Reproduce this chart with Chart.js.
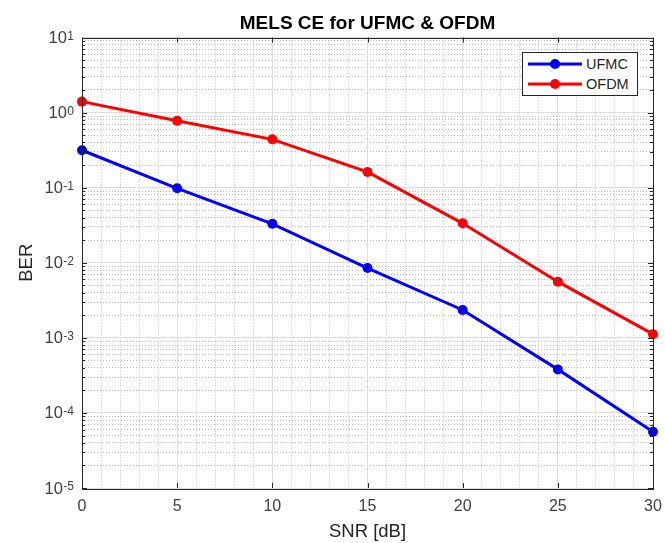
<!DOCTYPE html>
<html>
<head>
<meta charset="utf-8">
<script src="https://cdn.jsdelivr.net/npm/chart.js@4"></script>
<style>
  html, body { margin: 0; padding: 0; background: #fff; }
  #wrap { position: relative; width: 665px; height: 543px; }
  #legend {
    position: absolute; left: 522px; top: 52px; width: 114px; height: 42px;
    border: 1px solid #262626; background: #fff;
    font-family: "Liberation Sans", Arial, sans-serif; font-size: 14.5px; color: #262626;
  }
  #legend .row { display: flex; align-items: center; height: 20px; }
  #legend .row:first-child { margin-top: 1px; }
  #legend svg { margin-left: 5px; margin-right: 4px; }
</style>
</head>
<body>
<div id="wrap">
  <canvas id="chart" width="665" height="543"></canvas>
  <div id="legend"></div>
</div>
<script>
const snr = [0, 5, 10, 15, 20, 25, 30];
const berUFMC = [0.315, 0.098, 0.033, 0.0085, 0.00235, 0.00038, 0.000056];
const berOFDM = [1.4, 0.78, 0.44, 0.162, 0.0335, 0.0056, 0.00112];

const xTicks = [0, 5, 10, 15, 20, 25, 30];
const xMinorTicks = [1, 2, 3, 4, 6, 7, 8, 9, 11, 12, 13, 14, 16, 17, 18, 19, 21, 22, 23, 24, 26, 27, 28, 29];
const yTicks = [1e-5, 1e-4, 1e-3, 1e-2, 1e-1, 1e0, 1e1];
const yTickBase = "10";
const yTickExp = ["-5", "-4", "-3", "-2", "-1", "0", "1"];
const yMinorMult = [2, 3, 4, 5, 6, 7, 8, 9];

const fontFamily = '"Liberation Sans", Arial, sans-serif';
const axisColor = "#262626";
const tickColor = "#404040";

const yMinorTicks = [];
yTicks.slice(0, -1).forEach((d) => yMinorMult.forEach((m) => yMinorTicks.push(d * m)));

// box round the plot area plus inward tick marks, like matlab
const boxPlugin = {
  id: "box",
  afterDatasetsDraw(chart) {
    const { ctx, chartArea: a, scales } = chart;
    ctx.save();
    ctx.strokeStyle = axisColor;
    ctx.lineWidth = 1;
    ctx.beginPath();
    xTicks.forEach((v) => {
      const px = Math.round(scales.x.getPixelForValue(v)) + 0.5;
      ctx.moveTo(px, a.bottom); ctx.lineTo(px, a.bottom - 5);
      ctx.moveTo(px, a.top); ctx.lineTo(px, a.top + 5);
    });
    yTicks.forEach((v) => {
      const py = Math.round(scales.y.getPixelForValue(v)) + 0.5;
      ctx.moveTo(a.left, py); ctx.lineTo(a.left + 5, py);
      ctx.moveTo(a.right, py); ctx.lineTo(a.right - 5, py);
    });
    yMinorTicks.forEach((v) => {
      const py = Math.round(scales.y.getPixelForValue(v)) + 0.5;
      ctx.moveTo(a.left, py); ctx.lineTo(a.left + 3, py);
      ctx.moveTo(a.right, py); ctx.lineTo(a.right - 3, py);
    });
    ctx.stroke();
    ctx.strokeRect(Math.round(a.left) + 0.5, Math.round(a.top) + 0.5,
      Math.round(a.right - a.left), Math.round(a.bottom - a.top));
    ctx.restore();
  },
  // y labels as 10 with a raised exponent
  afterDraw(chart) {
    const { ctx, chartArea: a, scales } = chart;
    const right = a.left - 8;
    ctx.save();
    ctx.fillStyle = tickColor;
    ctx.textAlign = "right";
    yTicks.forEach((v, i) => {
      const py = scales.y.getPixelForValue(v);
      ctx.font = `12px ${fontFamily}`;
      ctx.textBaseline = "top";
      const expW = ctx.measureText(yTickExp[i]).width;
      ctx.fillText(yTickExp[i], right, py - 7);
      ctx.font = `16.5px ${fontFamily}`;
      ctx.textBaseline = "middle";
      ctx.fillText(yTickBase, right - expW - 0.5, py + 1);
    });
    ctx.restore();
  },
};

const minorAxis = (type, position, ticks) => ({
  type,
  position,
  min: type === "logarithmic" ? 1e-5 : 0,
  max: type === "logarithmic" ? 10 : 30,
  afterBuildTicks: (s) => { s.ticks = ticks.map((v) => ({ value: v })); },
  afterFit: (s) => {
    if (position === "left") s.width = 0; else s.height = 0;
    s.paddingLeft = s.paddingRight = s.paddingTop = s.paddingBottom = 0;
  },
  ticks: { display: false },
  grid: { color: "#bababa", lineWidth: 1, drawTicks: false },
  border: { display: false, dash: [1, 2] },
});

const chart = new Chart("chart", {
  type: "line",
  data: {
    datasets: [
      {
        label: "UFMC",
        data: snr.map((x, i) => ({ x, y: berUFMC[i] })),
        borderColor: "#0000ff",
        backgroundColor: "#0000ff",
      },
      {
        label: "OFDM",
        data: snr.map((x, i) => ({ x, y: berOFDM[i] })),
        borderColor: "#ff0000",
        backgroundColor: "#ff0000",
      },
    ],
  },
  options: {
    responsive: false,
    animation: false,
    layout: { padding: { left: 0, right: 12, top: 0, bottom: 0 } },
    elements: {
      line: { borderWidth: 3, tension: 0 },
      point: { radius: 5, borderWidth: 0, hoverRadius: 5 },
    },
    datasets: { line: { clip: false } },
    plugins: {
      legend: { display: false },
      tooltip: { enabled: false },
    },
    scales: {
      xMinor: minorAxis("linear", "bottom", xMinorTicks),
      yMinor: minorAxis("logarithmic", "left", yMinorTicks),
      // top axis only carries the title, so it centres over the plot area
      xTop: {
        type: "linear",
        position: "top",
        min: 0,
        max: 30,
        afterFit: (s) => { s.height = 37.5; s.paddingLeft = s.paddingRight = 0; },
        ticks: { display: false },
        grid: { display: false, drawTicks: false },
        border: { display: false },
        title: {
          display: true,
          text: "MELS CE for UFMC & OFDM",
          color: "#000",
          font: { family: fontFamily, size: 19, weight: "bold", lineHeight: 1.2 },
          padding: { top: 12, bottom: 0 },
        },
      },
      x: {
        type: "linear",
        position: "bottom",
        min: 0,
        max: 30,
        afterBuildTicks: (s) => { s.ticks = xTicks.map((v) => ({ value: v })); },
        afterFit: (s) => { s.height = 55; s.paddingLeft = s.paddingRight = 0; },
        grid: { color: "#dcdcdc", drawTicks: false },
        border: { display: false },
        ticks: { color: tickColor, padding: 9, font: { family: fontFamily, size: 16 } },
        title: {
          display: true,
          text: "SNR [dB]",
          color: "#262626",
          font: { family: fontFamily, size: 18.5, lineHeight: 1.2 },
          padding: { top: 0, bottom: 0 },
        },
      },
      y: {
        type: "logarithmic",
        position: "left",
        min: 1e-5,
        max: 10,
        afterBuildTicks: (s) => { s.ticks = yTicks.map((v) => ({ value: v })); },
        afterFit: (s) => { s.width = 82; s.paddingTop = s.paddingBottom = 0; },
        grid: { color: "#dcdcdc", drawTicks: false },
        border: { display: false },
        ticks: { display: false },
        title: {
          display: true,
          text: "BER",
          color: "#262626",
          font: { family: fontFamily, size: 18.5, lineHeight: 1.2 },
          padding: { top: 16, bottom: 0 },
        },
      },
    },
  },
  plugins: [boxPlugin],
});

// matlab style legend: line with marker, inside a box
const legend = document.getElementById("legend");
chart.data.datasets.forEach((ds) => {
  const row = document.createElement("div");
  row.className = "row";
  row.innerHTML =
    `<svg width="54" height="12"><line x1="0" y1="6" x2="54" y2="6" stroke="${ds.borderColor}" stroke-width="3"/>` +
    `<circle cx="27" cy="6" r="5" fill="${ds.borderColor}"/></svg><span>${ds.label}</span>`;
  legend.appendChild(row);
});
</script>
</body>
</html>
